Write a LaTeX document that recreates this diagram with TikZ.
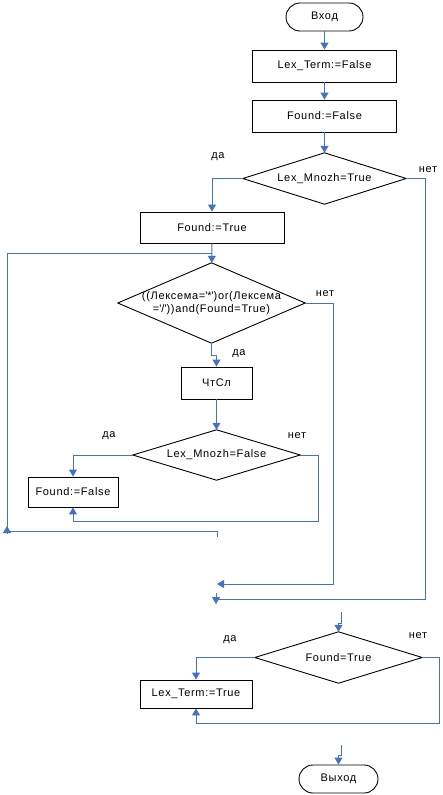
\documentclass[tikz,border=0pt]{standalone}
\usepackage{fontspec}
\setmainfont{Liberation Sans}[LetterSpace=6]
\usetikzlibrary{arrows.meta}
\definecolor{cblue}{RGB}{68,114,196}
\begin{document}
\begin{tikzpicture}[x=1pt,y=-1pt,
  every node/.style={font=\fontsize{11}{12.7}\selectfont, inner sep=0pt},
  term/.style={draw, rounded corners=14pt, line width=0.9pt, minimum height=28pt},
  box/.style={draw, line width=0.9pt},
  dia/.style={align=center},
  conn/.style={draw=cblue, line width=1pt},
  arr/.style={conn, -{Triangle[width=8pt,length=7pt]}},
  lbl/.style={}]
\useasboundingbox (0,0) rectangle (442,795);

% nodes
\node[term, minimum width=77pt] (start) at (324.5,17) {Вход};
\node[box, minimum width=144pt, minimum height=32pt] (b1) at (324.5,66) {Lex\_Term:=False};
\node[box, minimum width=144pt, minimum height=32pt] (b2) at (324.5,116) {Found:=False};
\node[dia, minimum width=163pt, minimum height=51pt] (d1) at (324.5,178.5) {Lex\_Mnozh=True};
\node[box, minimum width=144pt, minimum height=31pt] (b3) at (212,227.5) {Found:=True};
\node[dia, minimum width=187pt, minimum height=80pt] (d2) at (211.5,303) {((Лексема=\textquotesingle*\textquotesingle)or(Лексема\\=\textquotesingle/\textquotesingle))and(Found=True)};
\node[box, minimum width=71pt, minimum height=32pt] (b4) at (216.5,383) {ЧтСл};
\node[dia, minimum width=167pt, minimum height=50pt] (d3) at (216.5,455) {Lex\_Mnozh=False};
\node[box, minimum width=90pt, minimum height=30pt] (b5) at (73,492) {Found:=False};
\node[dia, minimum width=167pt, minimum height=51pt] (d4) at (338.5,657.5) {Found=True};
\node[box, minimum width=112pt, minimum height=28pt] (b6) at (196,694) {Lex\_Term:=True};
\node[term, minimum width=79pt] (end) at (338.5,779) {Выход};

\foreach \d in {d1,d2,d3,d4}
  \draw[line width=0.9pt] (\d.north) -- (\d.east) -- (\d.south) -- (\d.west) -- cycle;

% labels
\node[lbl] (l1) at (218,157) {да};
\node[lbl] (l2) at (428,170) {нет};
\node[lbl] (l3) at (325,294) {нет};
\node[lbl] (l4) at (239,354) {да};
\node[lbl] (l5) at (109,436) {да};
\node[lbl] (l6) at (297,436) {нет};
\node[lbl] (l7) at (230,640) {да};
\node[lbl] (l8) at (418,636) {нет};

% free ends
\coordinate (m1) at (216,599);
\coordinate (j1) at (216,593);
\coordinate (j1e) at (216,604);
\coordinate (m2) at (217,584);
\coordinate (lp) at (217,537);
\coordinate (lj) at (212,253);
\coordinate (s1) at (341,612);
\coordinate (s2) at (341,745);

% connectors
\draw[arr] (start) -- (b1);
\draw[arr] (b1) -- (b2);
\draw[arr] (b2) -- (d1);
\draw[arr] (d1.west) -| (b3.north);
\draw[conn] (d1.east) -- (425,178.5) -- (425,599) -- (m1);
\draw[arr] (j1) -- (j1e);
\draw[arr] (b3) -- (d2);
\draw[conn] (lp) -- (217,531) -- (7,531) -- (7,253) -- (lj);
\draw[arr] (7,533) -- (7,526);
\draw[arr] (d2.east) -- (333,303) -- (333,584) -- (m2);
\draw[arr] (d2.south) -- (211.5,355) -- (216.5,355) -- (b4.north);
\draw[arr] (b4) -- (d3);
\draw[arr] (d3.west) -| (b5.north);
\draw[arr] (d3.east) -- (318,455) -- (318,521) -- (73,521) -- (b5.south);
\draw[arr] (s1) -- (341,623) -- (338.5,623) -- (d4.north);
\draw[arr] (d4.west) -| (b6.north);
\draw[arr] (d4.east) -- (439,657.5) -- (439,723) -- (196,723) -- (b6.south);
\draw[arr] (s2) -- (341,755) -- (338.5,755) -- (end.north);
\end{tikzpicture}
\end{document}
